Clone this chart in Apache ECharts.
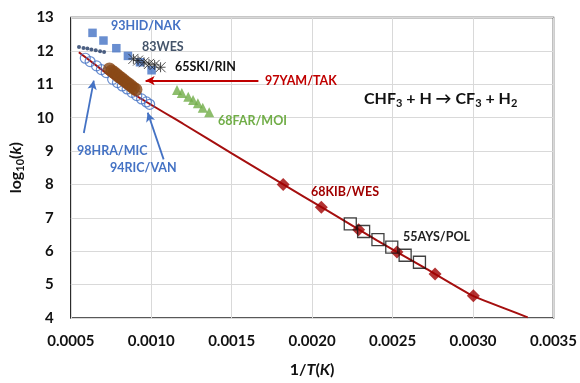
<!DOCTYPE html>
<html>
<head>
<meta charset="utf-8">
<script src="https://cdn.jsdelivr.net/npm/echarts@6/dist/echarts.min.js"></script>
<style>
  html, body { margin: 0; padding: 0; background: #fff; }
  #chart { width: 580px; height: 383px; }
</style>
</head>
<body>
<div id="chart"></div>
<script>
// Rate constants for CHF3 + H -> CF3 + H2, log10(k) against 1/T

const xTicks = [0.0005, 0.0010, 0.0015, 0.0020, 0.0025, 0.0030, 0.0035];
const yTicks = [4, 5, 6, 7, 8, 9, 10, 11, 12, 13];

// 93HID/NAK
const hidX = [0.000635, 0.000703, 0.000783, 0.000855, 0.00093, 0.001002];
const hidY = [12.54, 12.31, 12.08, 11.85, 11.66, 11.42];

// 83WES
const wesX = [0.000551, 0.000579, 0.000603, 0.000628, 0.000655, 0.000682, 0.000707];
const wesY = [12.12, 12.09, 12.07, 12.04, 12.02, 11.99, 11.97];

// 65SKI/RIN
const skiX = [0.000889, 0.000918, 0.000955, 0.000986, 0.001021, 0.001058];
const skiY = [11.76, 11.71, 11.66, 11.61, 11.58, 11.51];

// 97YAM/TAK
const yamX = [0.00074, 0.000755, 0.00077, 0.000785, 0.0008, 0.000815, 0.00083, 0.000845, 0.00086, 0.000875, 0.00089, 0.000905];
const yamY = [11.46, 11.40, 11.35, 11.29, 11.23, 11.18, 11.12, 11.06, 11.01, 10.95, 10.89, 10.84];

// 68FAR/MOI
const farX = [0.00116, 0.00119, 0.00123, 0.00126, 0.00129, 0.00132, 0.00136];
const farY = [10.83, 10.74, 10.63, 10.53, 10.43, 10.30, 10.16];

// 98HRA/MIC
const hraX = [0.00059, 0.00062, 0.00066, 0.00069, 0.00072];
const hraY = [11.78, 11.68, 11.55, 11.44, 11.35];

// 94RIC/VAN
const ricX = [0.00076, 0.00079, 0.00082, 0.00085, 0.00088, 0.00091, 0.00094, 0.00097, 0.00099];
const ricY = [11.15, 11.05, 10.95, 10.86, 10.76, 10.66, 10.56, 10.47, 10.40];

// 68KIB/WES
const kibX = [0.00182, 0.002057, 0.002289, 0.002527, 0.002764, 0.003002];
const kibY = [8.0, 7.32, 6.64, 5.98, 5.32, 4.67];

// 55AYS/POL
const aysX = [0.002237, 0.00232, 0.002409, 0.002495, 0.002578, 0.002667];
const aysY = [6.82, 6.59, 6.35, 6.12, 5.88, 5.67];

// Recommended fit
const fitX = [0.00055, 0.0007, 0.0009, 0.0012, 0.0015, 0.0018, 0.0021, 0.0024, 0.0027, 0.0030, 0.00334];
const fitY = [11.96, 11.41, 10.68, 9.81, 8.93, 8.06, 7.2, 6.33, 5.5, 4.66, 4.02];

// Annotation arrows: [fromX, fromY, toX, toY]
const arrowYam = [0.001666, 11.11, 0.000965, 11.11];
const arrowHra = [0.000581, 9.54, 0.000643, 11.11];
const arrowRic = [0.001077, 8.75, 0.000978, 10.15];

const zip = (xs, ys) => xs.map((x, i) => [x, ys[i]]);

const FONT = 'Lato, "Open Sans", "DejaVu Sans", sans-serif';
const BLUE = '#4472c4';
const RED = '#a50f0f';

const asterisk = 'path://M5,0 L5,10 M0,0 L10,10 M0,10 L10,0 M0,5 L10,5';

function arrowLine(a, color) {
  return {
    silent: true,
    symbol: ['none', 'arrow'],
    symbolSize: [7, 9],
    label: { show: false },
    lineStyle: { color: color, width: 1.8, type: 'solid' },
    data: [[{ coord: [a[0], a[1]] }, { coord: [a[2], a[3]] }]]
  };
}

function txt(left, top, text, color) {
  return {
    type: 'text', left: left, top: top, z: 20,
    style: { text: text, fill: color, font: 'bold 12.5px ' + FONT }
  };
}

const chart = echarts.init(document.getElementById('chart'), null, { renderer: 'canvas' });

chart.setOption({
  animation: false,
  backgroundColor: '#fff',
  grid: { left: 70, right: 26, top: 17.5, bottom: 57.5, show: true, borderColor: '#222', borderWidth: 1.5, backgroundColor: 'transparent' },
  xAxis: {
    type: 'value', min: 0.0005, max: 0.0035, interval: 0.0005,
    axisLine: { show: false },
    axisTick: { show: false },
    splitLine: { show: true, lineStyle: { color: '#d9d9d9', width: 1 } },
    axisLabel: {
      color: '#111', fontFamily: FONT, fontWeight: 'bold', fontSize: 15, margin: 16,
      formatter: v => v.toFixed(4)
    },
    name: '{a|1/}{i|T}{a|(}{i|K}{a|)}',
    nameLocation: 'middle', nameGap: 44,
    nameTextStyle: {
      rich: {
        a: { fontFamily: FONT, fontWeight: 'bold', fontSize: 16, color: '#111' },
        i: { fontFamily: FONT, fontWeight: 'bold', fontStyle: 'italic', fontSize: 16, color: '#111' }
      }
    }
  },
  yAxis: {
    type: 'value', min: 4, max: 13, interval: 1,
    axisLine: { show: false },
    axisTick: { show: false },
    splitLine: { show: true, lineStyle: { color: '#d9d9d9', width: 1 } },
    axisLabel: { color: '#111', fontFamily: FONT, fontWeight: 'bold', fontSize: 15, margin: 17 },
    name: '{a|log}{s|10}{a|(}{i|k}{a|)}',
    nameLocation: 'middle', nameGap: 44, nameRotate: 90,
    nameTextStyle: {
      rich: {
        a: { fontFamily: FONT, fontWeight: 'bold', fontSize: 16, color: '#111' },
        s: { fontFamily: FONT, fontWeight: 'bold', fontSize: 11, color: '#111', padding: [8, 0, 0, 0] },
        i: { fontFamily: FONT, fontWeight: 'bold', fontStyle: 'italic', fontSize: 16, color: '#111' }
      }
    }
  },
  series: [
    {
      name: 'fit', type: 'line', data: zip(fitX, fitY), smooth: 0.12,
      showSymbol: false, symbol: 'none', z: 3,
      lineStyle: { color: RED, width: 2 }
    },
    {
      name: '98HRA/MIC', type: 'scatter', data: zip(hraX, hraY), symbol: 'circle', symbolSize: 10, z: 4,
      itemStyle: { color: 'rgba(255,255,255,0)', borderColor: BLUE, borderWidth: 1.2 },
      markLine: arrowLine(arrowHra, BLUE)
    },
    {
      name: '94RIC/VAN', type: 'scatter', data: zip(ricX, ricY), symbol: 'circle', symbolSize: 10, z: 4,
      itemStyle: { color: 'rgba(255,255,255,0)', borderColor: BLUE, borderWidth: 1.2 },
      markLine: arrowLine(arrowRic, BLUE)
    },
    {
      name: '97YAM/TAK', type: 'scatter', data: zip(yamX, yamY), symbol: 'circle', symbolSize: 13, z: 5,
      itemStyle: { color: '#8a4816' },
      markLine: arrowLine(arrowYam, '#c00000')
    },
    {
      name: '93HID/NAK', type: 'scatter', data: zip(hidX, hidY), symbol: 'rect', symbolSize: 8.5, z: 5,
      itemStyle: { color: BLUE }
    },
    {
      name: '83WES', type: 'scatter', data: zip(wesX, wesY), symbol: 'circle', symbolSize: 4, z: 5,
      itemStyle: { color: '#1f3864' }
    },
    {
      name: '65SKI/RIN', type: 'scatter', data: zip(skiX, skiY), symbol: asterisk, symbolSize: 10, z: 6,
      itemStyle: { color: 'none', borderColor: '#222', borderWidth: 1 }
    },
    {
      name: '68FAR/MOI', type: 'scatter', data: zip(farX, farY), symbol: 'triangle', symbolSize: 10, z: 5,
      itemStyle: { color: '#70ad47' }
    },
    {
      name: '68KIB/WES', type: 'scatter', data: zip(kibX, kibY), symbol: 'diamond', symbolSize: 13, z: 5,
      itemStyle: { color: '#a00000' }
    },
    {
      name: '55AYS/POL', type: 'scatter', data: zip(aysX, aysY), symbol: 'rect', symbolSize: 12, z: 6,
      itemStyle: { color: 'rgba(255,255,255,0)', borderColor: '#111', borderWidth: 1.3 }
    }
  ],
  graphic: [
    txt(111, 19, '93HID/NAK', BLUE),
    txt(142, 40, '83WES', '#44546a'),
    txt(175, 60, '65SKI/RIN', '#111'),
    txt(265, 74, '97YAM/TAK', '#c00000'),
    txt(218, 114, '68FAR/MOI', '#70ad47'),
    txt(77, 144, '98HRA/MIC', BLUE),
    txt(110, 161, '94RIC/VAN', BLUE),
    txt(311, 185, '68KIB/WES', '#a00000'),
    txt(403, 230, '55AYS/POL', '#222'),
    {
      type: 'text', left: 364, top: 91, z: 20,
      style: {
        text: '{a|CHF}{s|3}{a| + H → CF}{s|3}{a| + H}{s|2}',
        rich: {
          a: { fontFamily: FONT, fontSize: 16, fontWeight: 'bold', fill: '#111', color: '#111' },
          s: { fontFamily: FONT, fontSize: 11, fontWeight: 'bold', fill: '#111', color: '#111', padding: [8, 0, 0, 0] }
        }
      }
    }
  ]
});
</script>
</body>
</html>
